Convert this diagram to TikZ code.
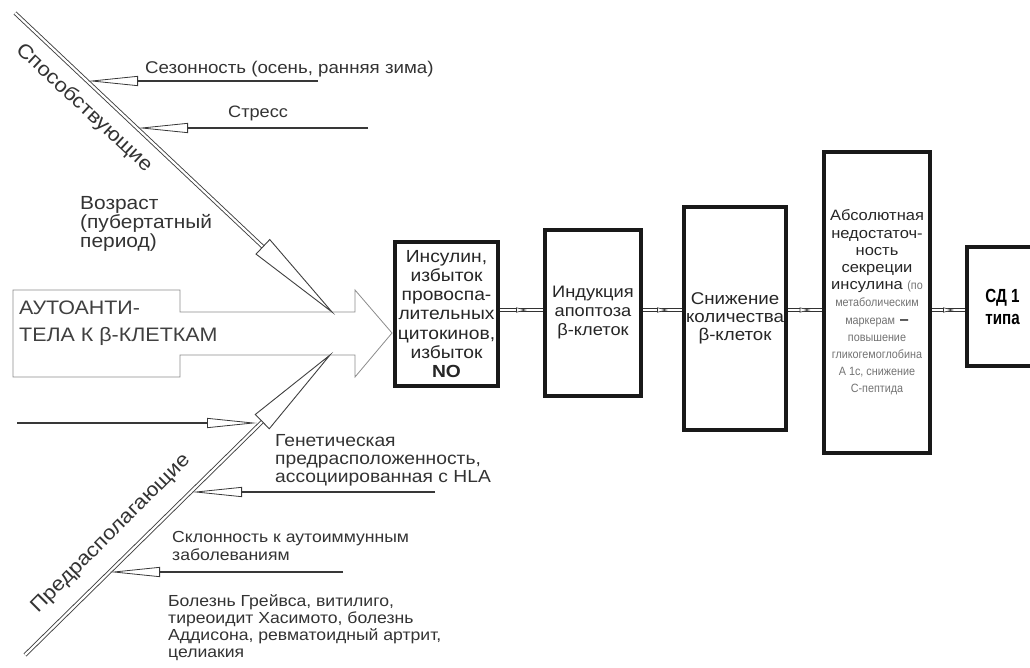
\documentclass[tikz,border=0pt]{standalone}
\usepackage{fontspec}
\setmainfont{Liberation Sans}[FakeStretch=1.1]
\newfontfamily\narrowfont{Liberation Sans}[FakeStretch=0.8]
\newfontfamily\tinyfont{Liberation Sans}[FakeStretch=0.9]
\usetikzlibrary{arrows.meta,calc}

\newcommand\fsz[2]{\fontsize{#1}{#2}\selectfont}
\newcommand\smallgray{\tinyfont\fontsize{12}{17}\selectfont\color{black!55}}

\tikzset{
  lbl/.style={inner sep=0pt, text=black!80, align=left, anchor=north west},
  rotlbl/.style={inner sep=0pt, text=black!80, font=\fsz{20}{22}},
  box/.style={draw=black!90, line width=4pt, align=center, inner sep=0pt, text=black!85},
  bigarrow/.style={draw=black!45, line width=0.8pt},
  factor/.style={draw=black!78, line width=1.3pt,
    -{Triangle[open,length=50pt,width=10pt,line width=0.8pt]}},
  dline/.style={draw=black!75, line width=0.9pt, double=white, double distance=2.2pt},
  dhead/.style={draw=black!75, line width=0.9pt, line join=miter},
  connline/.style={draw=black!80, line width=0.9pt, double=white, double distance=1.6pt},
  smalltri/.style={draw=black!80, line width=0.6pt, fill=white}
}

% double-line diagonal ending in a long open arrowhead at the tip
\newcommand\diagarrow[2]{%
  \draw[dline] (#2) -- ($(#1)!95pt!(#2)$);
  \draw[dhead] ($(#1)!95pt!(#2)!10pt!90:(#2)$) -- (#1)
    -- ($(#1)!95pt!(#2)!10pt!-90:(#2)$) -- cycle;}

% horizontal double link between two boxes with a small open arrowhead
\newcommand\linkboxes[2]{%
  \coordinate (#1src) at (#1.east |- row);
  \coordinate (#2dst) at (#2.west |- row);
  \draw[connline] (#1src) -- (#2dst);
  \draw[smalltri] ($(#1src)!0.5!(#2dst)$)
    +(-5,-2.2) -- +(4,0) -- +(-5,2.2) -- cycle;}

\begin{document}
\begin{tikzpicture}[x=1pt,y=-1pt]
\useasboundingbox (0,0) rectangle (1030,668);
\clip (0,0) rectangle (1030,668);
\fill[white] (0,0) rectangle (1030,668);

% ---------- wide hollow arrow: autoantibodies ----------
\draw[bigarrow] (13,290) -- (180,290) -- (180,312) -- (355,312) -- (355,290)
  -- (392,333) -- (355,377) -- (355,355) -- (180,355) -- (180,377) -- (13,377) -- cycle;
\node[lbl, font=\fsz{19.5}{27}, text=black!75] (auto) at (19,301)
  {АУТОАНТИ-\\ТЕЛА К β-КЛЕТКАМ};

% ---------- the two diagonal branches ----------
\coordinate (sTop) at (15,13);
\coordinate (sTip) at (332,312);
\coordinate (pBot) at (25,655);
\coordinate (pTip) at (330,355);
\diagarrow{sTip}{sTop}
\diagarrow{pTip}{pBot}

\node[rotlbl, rotate=-43] (spos) at (84,108) {Способствующие};
\node[rotlbl, rotate=45] (pred) at (111,534) {Предрасполагающие};

% ---------- contributing factors ----------
\coordinate (sezE) at (318,81);  \coordinate (sezT) at (88,81);
\coordinate (strE) at (368,128); \coordinate (strT) at (138,128);
\draw[factor] (sezE) -- (sezT);
\draw[factor] (strE) -- (strT);
\node[lbl, font=\fsz{17}{20}] (sez) at (145,61) {Сезонность (осень, ранняя зима)};
\node[lbl, font=\fsz{16.5}{20}] (str) at (228,106) {Стресс};
\node[lbl, font=\fsz{19}{19}] (voz) at (80,196) {Возраст\\(пубертатный\\период)};

% ---------- predisposing factors ----------
\coordinate (lftE) at (17,423);  \coordinate (lftT) at (257,423);
\coordinate (genE) at (435,492); \coordinate (genT) at (192,492);
\coordinate (sklE) at (343,572); \coordinate (sklT) at (110,572);
\draw[factor] (lftE) -- (lftT);
\draw[factor] (genE) -- (genT);
\draw[factor] (sklE) -- (sklT);
\node[lbl, font=\fsz{17.5}{18}] (gen) at (275,434)
  {Генетическая\\предрасположенность,\\ассоциированная с HLA};
\node[lbl, font=\fsz{16}{18.3}] (skl) at (172,531)
  {Склонность к аутоиммунным\\заболеваниям};
\node[lbl, font=\fsz{16}{17.3}] (bol) at (168,594)
  {Болезнь Грейвса, витилиго,\\тиреоидит Хасимото, болезнь\\Аддисона, ревматоидный артрит,\\целиакия};

% ---------- chain of boxes ----------
\node[box, minimum width=103pt, minimum height=144pt, font=\fsz{17.5}{19.3}] (b1) at (446.5,314)
  {Инсулин,\\избыток\\провоспа-\\лительных\\цитокинов,\\избыток\\\textbf{NO}};
\node[box, minimum width=96pt, minimum height=166pt, font=\fsz{16.6}{19}] (b2) at (593,313)
  {Индукция\\апоптоза\\β-клеток};
\node[box, minimum width=102pt, minimum height=223pt, font=\fsz{17}{18}] (b3) at (735,318.5)
  {Снижение\\количества\\β-клеток};
\node[box, minimum width=106pt, minimum height=301pt, font=\fsz{15}{17.2}] (b4) at (877,302.5)
  {Абсолютная\\недостаточ-\\ность\\секреции\\инсулина {\smallgray(по}\\{\smallgray метаболическим}\\{\smallgray маркерам} \textbf{–}\\{\smallgray повышение}\\{\smallgray гликогемоглобина}\\{\smallgray А 1с, снижение}\\{\smallgray С-пептида}};
\node[box, minimum width=71pt, minimum height=119pt, font=\narrowfont\bfseries\fsz{19}{22}, text=black] (b5) at (1002.5,306.5)
  {СД 1\\типа};

\coordinate (row) at (0,310);
\linkboxes{b1}{b2}
\linkboxes{b2}{b3}
\linkboxes{b3}{b4}
\linkboxes{b4}{b5}
\end{tikzpicture}
\end{document}
